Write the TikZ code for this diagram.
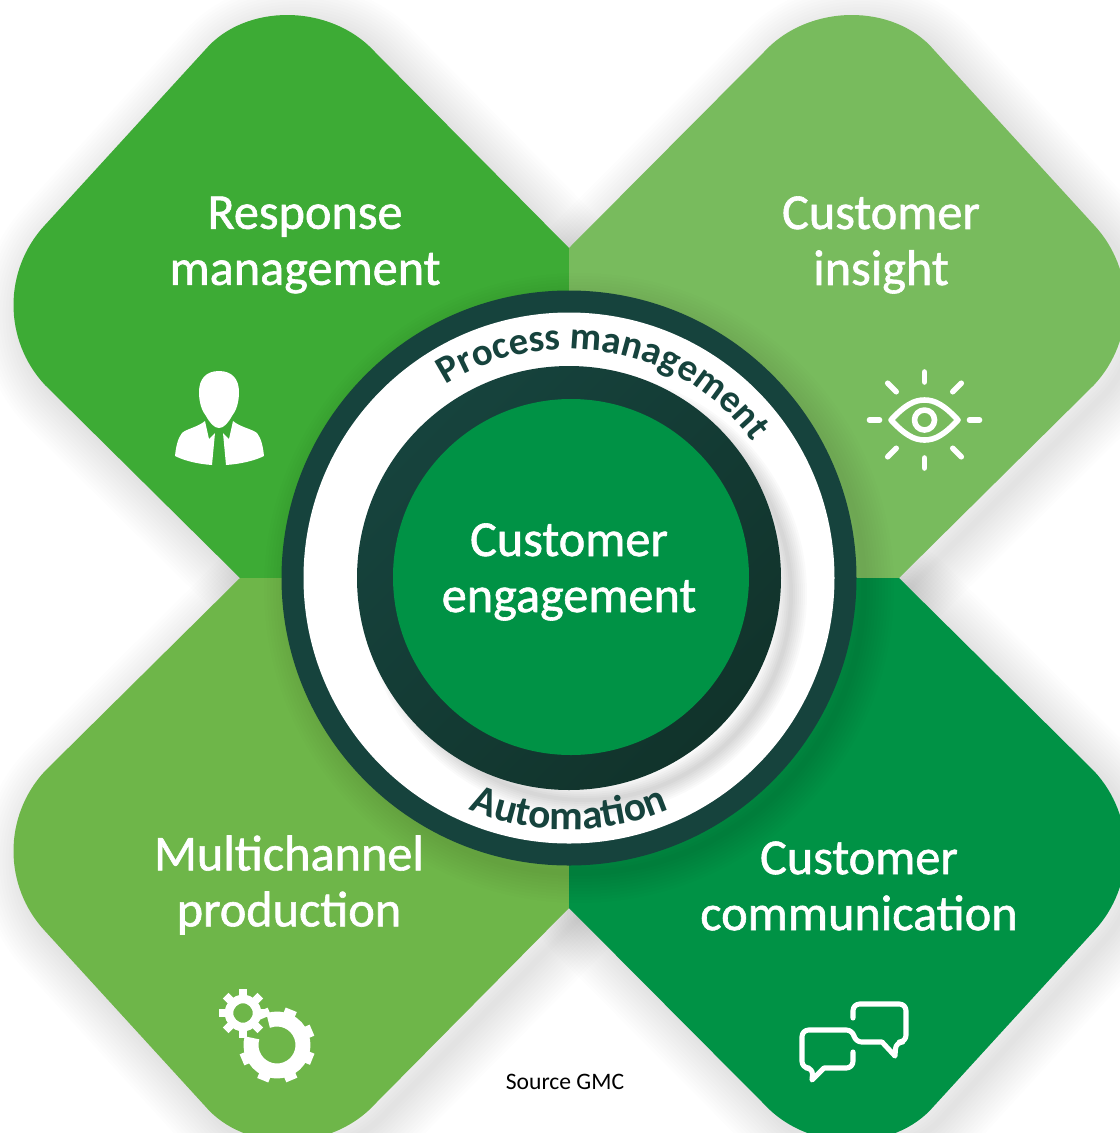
\documentclass[tikz,border=0pt]{standalone}
\usepackage{fontspec}
\setmainfont{Carlito}
\usetikzlibrary{decorations.text}
\definecolor{responsegreen}{HTML}{3DAB35}
\definecolor{insightgreen}{HTML}{78BB5D}
\definecolor{channelgreen}{HTML}{6EB649}
\definecolor{commgreen}{HTML}{009245}
\definecolor{ringteal}{HTML}{16433D}
\definecolor{ringdark}{HTML}{11332B}
\tikzset{
  panellabel/.style={text=white,align=center,font=\fontsize{37.7}{42}\selectfont\addfontfeature{FakeBold=1.2}},
  softedge/.style={draw=black,line join=round,opacity=.0065},
  iconline/.style={draw=white,line width=3.8pt,line cap=round,line join=round}
}
\def\responsepath{(569,248) -- (375,52) .. controls (330,3) and (245,3) .. (205,50) -- (45,225) .. controls (3,270) and (3,340) .. (45,385) -- (240,578) -- (569,578) -- cycle}
\def\insightpath{(569,248) -- (764,52) .. controls (809,3) and (894,3) .. (934,50) -- (1094,225) .. controls (1136,270) and (1136,340) .. (1094,385) -- (899,578) -- (569,578) -- cycle}
\def\channelpath{(569,908) -- (375,1104) .. controls (330,1153) and (245,1153) .. (205,1106) -- (45,931) .. controls (3,886) and (3,816) .. (45,771) -- (240,578) -- (569,578) -- cycle}
\def\commpath{(569,908) -- (764,1104) .. controls (809,1153) and (894,1153) .. (934,1106) -- (1094,931) .. controls (1136,886) and (1136,816) .. (1094,771) -- (899,578) -- (569,578) -- cycle}
\begin{document}
\begin{tikzpicture}[x=0.75pt,y=-0.75pt]
  \useasboundingbox (0,0) rectangle (1120,1133);
  \clip (0,0) rectangle (1120,1133);
  \foreach \w in {6,12,...,84} {
    \draw[softedge,line width=\w*0.75pt,shift={(10,10)}] \responsepath;
    \draw[softedge,line width=\w*0.75pt,shift={(10,10)}] \insightpath;
    \draw[softedge,line width=\w*0.75pt,shift={(10,10)}] \channelpath;
    \draw[softedge,line width=\w*0.75pt,shift={(10,10)}] \commpath;
  }
  \fill[responsegreen] \responsepath;
  \fill[insightgreen] \insightpath;
  \fill[channelgreen] \channelpath;
  \fill[commgreen] \commpath;
  \foreach \w in {6,12,...,60}
    \draw[softedge,line width=\w*0.75pt] (579,588) circle (285);
  \fill[ringteal] (569,578) circle (287.5);
  \fill[white] (569,578) circle (265.5);
  \foreach \w in {4,8,...,32}
    \draw[black,opacity=.02,line width=\w*0.75pt] (585,594) circle (206);
  \shade[shading=axis,left color=ringteal,right color=ringdark,shading angle=45] (569,578) circle (212);
  \fill[commgreen] (571,577) circle (178);
  \path[decorate,decoration={text along path,text align=center,
    text={|\fontsize{29}{29}\selectfont\bfseries\color{ringteal}|Process management}}]
    (569,578) ++(222:229) arc (222:339:229);
  \path[decorate,decoration={text along path,text align=center,
    text={|\fontsize{31}{31}\selectfont\bfseries\color{ringteal}|Automa{ti}on}}]
    (569,578) ++(120:252) arc (120:60:252);
  \node[panellabel] (response) at (305,245) {Response\\management};
  \node[panellabel] (insight) at (881,245) {Customer\\insight};
  \node[panellabel] (channel) at (289,885) {Multichannel\\production};
  \node[panellabel] (comm) at (859,886) {Customer\\communication};
  \node[panellabel] (engage) at (569,572) {Customer\\engagement};
  \node[font=\fontsize{17.7}{20}\selectfont] (source) at (565,1082) {Source GMC};
  \fill[white] (219,371) .. controls (232,371) and (239,379) .. (239,392) .. controls (239,403) and (236,411) .. (232,416) .. controls (228,423) and (224,428) .. (219,428) .. controls (214,428) and (210,423) .. (206,416) .. controls (202,411) and (199,403) .. (199,392) .. controls (199,379) and (206,371) .. (219,371) -- cycle;
  \fill[white] (205,421) -- (209,439) -- (215,433) -- (212,465) .. controls (198,464) and (185,461) .. (175,456) .. controls (176,446) and (178,438) .. (182,433) .. controls (186,429) and (198,427) .. (205,421) -- cycle;
  \fill[white] (233,421) -- (229,439) -- (223,433) -- (226,465) .. controls (240,464) and (254,461) .. (264,456) .. controls (263,446) and (261,438) .. (257,433) .. controls (252,429) and (240,427) .. (233,421) -- cycle;
  \draw[iconline,line width=4.2pt] (891,420) .. controls (905,405) and (914,400) .. (924.5,400) .. controls (935,400) and (944,405) .. (958,420) .. controls (944,435) and (935,440) .. (924.5,440) .. controls (914,440) and (905,435) .. (891,420) -- cycle;
  \draw[iconline,line width=4.2pt] (924.5,420) circle (10);
  \foreach \a/\r/\s in {0/45/55,45/40/52,90/38/48,135/40/52,180/45/55,225/40/52,270/38/48,315/40/52}
    \draw[iconline,line width=4.2pt] (924.5,420) ++(\a:\r) -- ++(\a:\s-\r);
  \draw[white,line width=11.2pt] (277,1045) ++(250:26) arc (250:556:26);
  \foreach \a in {22,67,...,157,247,292,337}
    \draw[white,line width=9pt] (277,1045) ++(\a:30) -- ++(\a:8);
  \draw[white,line width=6.4pt] (243,1013) circle (14);
  \foreach \a in {0,45,...,315}
    \draw[white,line width=6pt] (243,1013) ++(\a:15) -- ++(\a:9.5);
  \draw[iconline,rounded corners=5pt] (853,1018) -- (853,1004) -- (906,1004) -- (906,1042) -- (896,1042) [sharp corners] -- (895,1056) -- (882,1042) [rounded corners=5pt] -- (855,1042) -- (853,1030) -- (802,1030) -- (802,1068) -- (813,1068) [sharp corners] -- (812,1080) -- (824,1068) [rounded corners=5pt] -- (853,1068) -- (853,1052);
\end{tikzpicture}
\end{document}
